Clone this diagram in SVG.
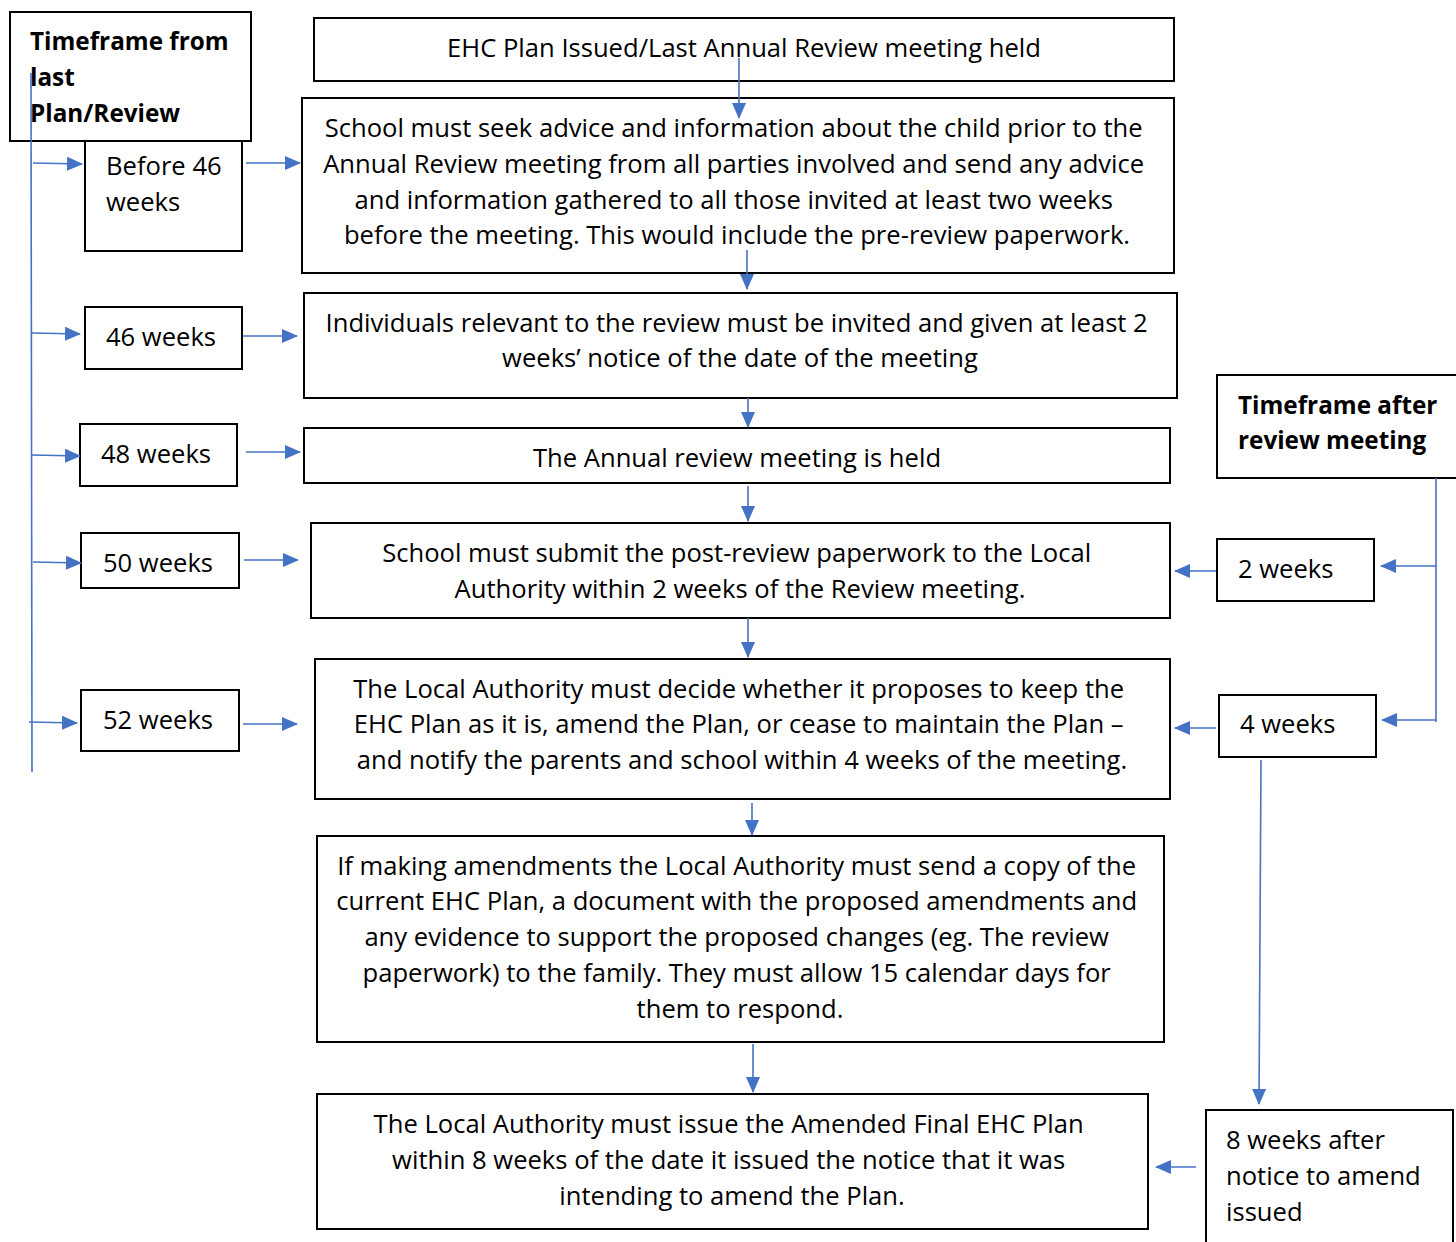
<svg xmlns="http://www.w3.org/2000/svg" width="1456" height="1242" viewBox="0 0 1456 1242">
<style>
  .box { fill: #fff; stroke: #000; stroke-width: 2; }
  .t { font-family: "Open Sans", "Liberation Sans", sans-serif; font-size: 25.6px; fill: #000; }
  .c { text-anchor: middle; }
  .b { font-weight: bold; font-size: 24.3px; }
  .con line, .con path { stroke: #4472C4; stroke-width: 1.6; fill: none; }
</style>
<defs>
  <marker id="ah" markerUnits="userSpaceOnUse" markerWidth="16" markerHeight="14" refX="15" refY="7" orient="auto">
    <path d="M0,0 L16,7 L0,14 Z" fill="#4472C4"/>
  </marker>
</defs>
<rect width="1456" height="1242" fill="#fff"/>

<g id="n-issued">
  <rect class="box" x="314" y="18" width="860" height="63"/>
  <text class="t c" x="744" y="57">EHC Plan Issued/Last Annual Review meeting held</text>
</g>
<g id="n-seek">
  <rect class="box" x="302" y="98" width="872" height="175"/>
  <text class="t c" x="738">
    <tspan x="737" y="137">School must seek advice and information about the child prior to the</tspan>
    <tspan x="737" y="173">Annual Review meeting from all parties involved and send any advice</tspan>
    <tspan x="737" y="209">and information gathered to all those invited at least two weeks</tspan>
    <tspan x="737" y="244">before the meeting. This would include the pre-review paperwork.</tspan>
  </text>
</g>
<g id="n-invite">
  <rect class="box" x="304" y="293" width="873" height="105"/>
  <text class="t c">
    <tspan x="740" y="332">Individuals relevant to the review must be invited and given at least 2</tspan>
    <tspan x="740" y="367">weeks’ notice of the date of the meeting</tspan>
  </text>
</g>
<g id="n-meeting">
  <rect class="box" x="304" y="428" width="866" height="55"/>
  <text class="t c" x="737" y="467">The Annual review meeting is held</text>
</g>
<g id="n-submit">
  <rect class="box" x="311" y="523" width="859" height="95"/>
  <text class="t c">
    <tspan x="740" y="562">School must submit the post-review paperwork to the Local</tspan>
    <tspan x="740" y="598">Authority within 2 weeks of the Review meeting.</tspan>
  </text>
</g>
<g id="n-decide">
  <rect class="box" x="315" y="659" width="855" height="140"/>
  <text class="t c">
    <tspan x="742" y="698">The Local Authority must decide whether it proposes to keep the</tspan>
    <tspan x="742" y="733">EHC Plan as it is, amend the Plan, or cease to maintain the Plan –</tspan>
    <tspan x="742" y="769">and notify the parents and school within 4 weeks of the meeting.</tspan>
  </text>
</g>
<g id="n-amend">
  <rect class="box" x="317" y="836" width="847" height="206"/>
  <text class="t c">
    <tspan x="740" y="875">If making amendments the Local Authority must send a copy of the</tspan>
    <tspan x="740" y="910">current EHC Plan, a document with the proposed amendments and</tspan>
    <tspan x="740" y="946">any evidence to support the proposed changes (eg. The review</tspan>
    <tspan x="740" y="982">paperwork) to the family. They must allow 15 calendar days for</tspan>
    <tspan x="740" y="1018">them to respond.</tspan>
  </text>
</g>
<g id="n-issue-final">
  <rect class="box" x="317" y="1094" width="831" height="135"/>
  <text class="t c">
    <tspan x="732" y="1133">The Local Authority must issue the Amended Final EHC Plan</tspan>
    <tspan x="732" y="1169">within 8 weeks of the date it issued the notice that it was</tspan>
    <tspan x="732" y="1205">intending to amend the Plan.</tspan>
  </text>
</g>

<g id="n-tf-left">
  <rect class="box" x="10" y="12" width="241" height="129"/>
  <text class="t b">
    <tspan x="30" y="50">Timeframe from</tspan>
    <tspan x="30" y="86">last</tspan>
    <tspan x="30" y="122">Plan/Review</tspan>
  </text>
</g>
<g id="n-before46">
  <rect class="box" x="85" y="141" width="157" height="110"/>
  <text class="t">
    <tspan x="106" y="175">Before 46</tspan>
    <tspan x="106" y="211">weeks</tspan>
  </text>
</g>
<g id="n-46">
  <rect class="box" x="85" y="307" width="157" height="62"/>
  <text class="t c" x="161" y="346">46 weeks</text>
</g>
<g id="n-48">
  <rect class="box" x="80" y="424" width="157" height="62"/>
  <text class="t c" x="156" y="463">48 weeks</text>
</g>
<g id="n-50">
  <rect class="box" x="81" y="533" width="158" height="55"/>
  <text class="t c" x="158" y="572">50 weeks</text>
</g>
<g id="n-52">
  <rect class="box" x="81" y="690" width="158" height="61"/>
  <text class="t c" x="158" y="729">52 weeks</text>
</g>

<g id="n-tf-right">
  <rect class="box" x="1217" y="375" width="245" height="103"/>
  <text class="t b">
    <tspan x="1238" y="414">Timeframe after</tspan>
    <tspan x="1238" y="449">review meeting</tspan>
  </text>
</g>
<g id="n-2w">
  <rect class="box" x="1217" y="539" width="157" height="62"/>
  <text class="t" x="1238" y="578">2 weeks</text>
</g>
<g id="n-4w">
  <rect class="box" x="1219" y="695" width="157" height="62"/>
  <text class="t" x="1240" y="733">4 weeks</text>
</g>
<g id="n-8w">
  <rect class="box" x="1206" y="1110" width="247" height="140"/>
  <text class="t">
    <tspan x="1226" y="1149">8 weeks after</tspan>
    <tspan x="1226" y="1185">notice to amend</tspan>
    <tspan x="1226" y="1221">issued</tspan>
  </text>
</g>

<g id="connectors" class="con">
  <!-- central chain -->
  <line x1="739" y1="58" x2="739" y2="118" marker-end="url(#ah)"/>
  <line x1="747" y1="250" x2="747" y2="289" marker-end="url(#ah)"/>
  <line x1="748" y1="398" x2="748" y2="427" marker-end="url(#ah)"/>
  <line x1="748" y1="486" x2="748" y2="521" marker-end="url(#ah)"/>
  <line x1="748" y1="618" x2="748" y2="657" marker-end="url(#ah)"/>
  <line x1="752" y1="803" x2="752" y2="835" marker-end="url(#ah)"/>
  <line x1="753" y1="1044" x2="753" y2="1092" marker-end="url(#ah)"/>
  <!-- left timeline -->
  <line x1="31" y1="73" x2="32" y2="772"/>
  <line x1="33" y1="163" x2="82" y2="164" marker-end="url(#ah)"/>
  <line x1="32" y1="333" x2="80" y2="334" marker-end="url(#ah)"/>
  <line x1="32" y1="455" x2="80" y2="456" marker-end="url(#ah)"/>
  <line x1="33" y1="562" x2="81" y2="563" marker-end="url(#ah)"/>
  <line x1="29" y1="722" x2="77" y2="723" marker-end="url(#ah)"/>
  <!-- left boxes to main -->
  <line x1="246" y1="163" x2="300" y2="163" marker-end="url(#ah)"/>
  <line x1="243" y1="336" x2="297" y2="336" marker-end="url(#ah)"/>
  <line x1="246" y1="452" x2="300" y2="452" marker-end="url(#ah)"/>
  <line x1="244" y1="560" x2="298" y2="560" marker-end="url(#ah)"/>
  <line x1="243" y1="724" x2="297" y2="724" marker-end="url(#ah)"/>
  <!-- right timeline -->
  <line x1="1436" y1="478" x2="1436" y2="722"/>
  <line x1="1436" y1="566" x2="1381" y2="566" marker-end="url(#ah)"/>
  <line x1="1436" y1="720" x2="1382" y2="720" marker-end="url(#ah)"/>
  <line x1="1216" y1="571" x2="1175" y2="571" marker-end="url(#ah)"/>
  <line x1="1216" y1="728" x2="1175" y2="728" marker-end="url(#ah)"/>
  <line x1="1261" y1="760" x2="1259" y2="1104" marker-end="url(#ah)"/>
  <line x1="1196" y1="1167" x2="1156" y2="1167" marker-end="url(#ah)"/>
</g>
</svg>
